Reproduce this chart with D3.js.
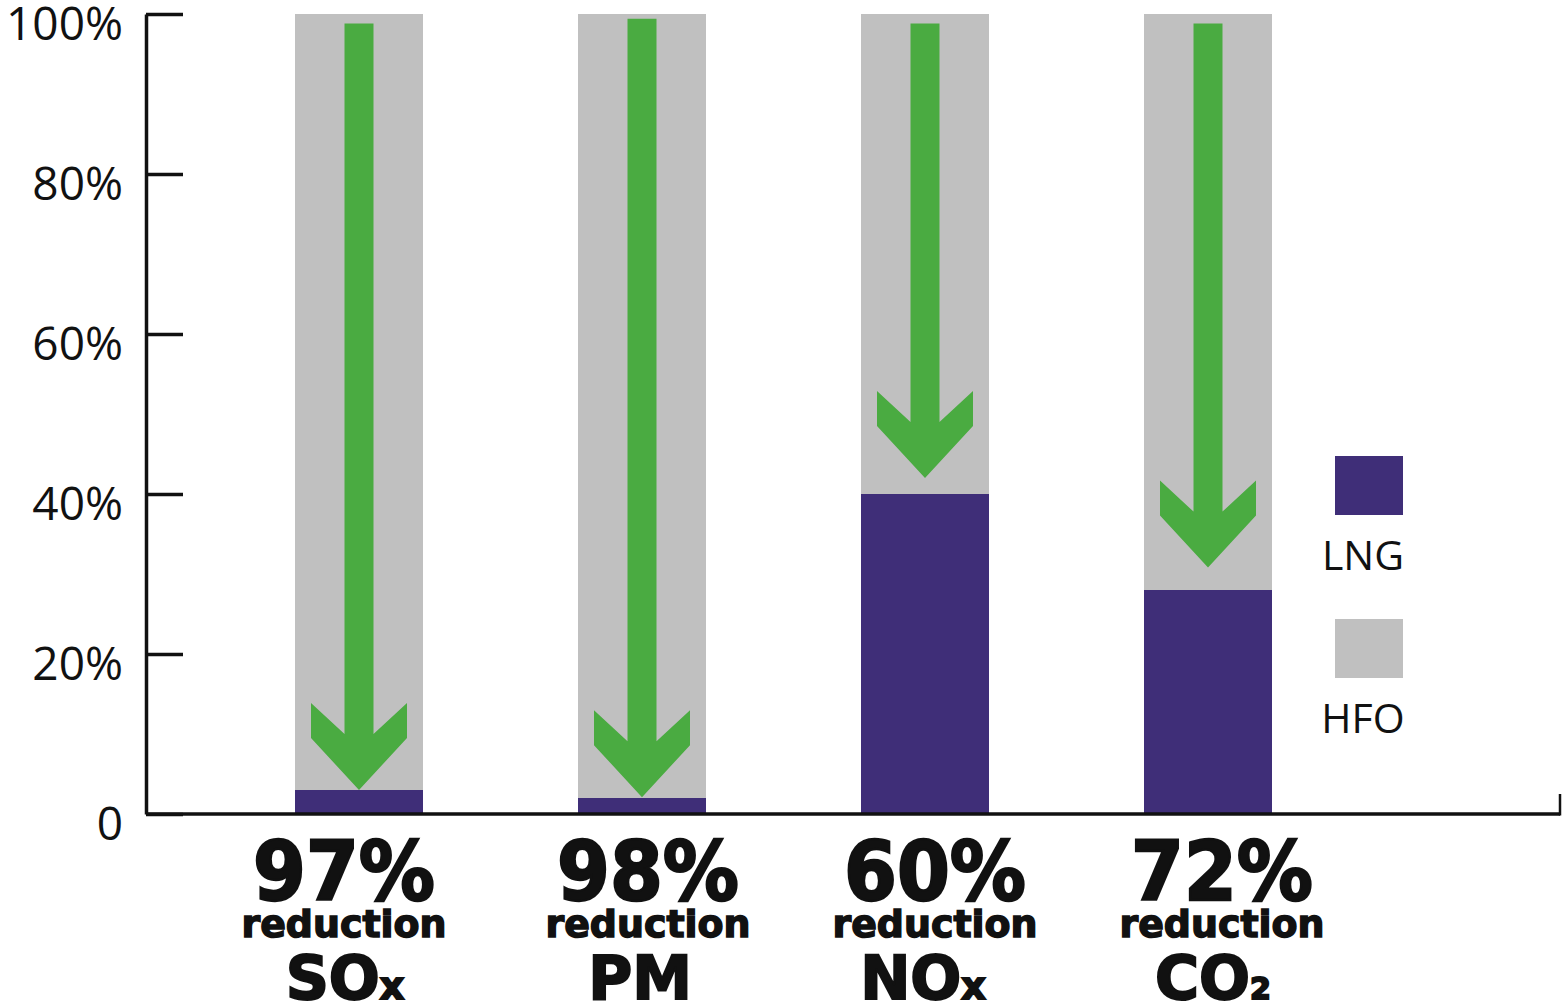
<!DOCTYPE html>
<html>
<head>
<meta charset="utf-8">
<script src="https://cdn.jsdelivr.net/npm/d3@7"></script>
<style>
  body { margin: 0; background: #fff; }
  svg { display: block; }
</style>
</head>
<body>
<script>
// data
var pollutants = ["SOx", "PM", "NOx", "CO2"];
var nameMain = ["SO", "PM", "NO", "CO"];
var nameSmall = ["x", "", "x", "2"];
var hfoValues = [100, 100, 100, 100];   // HFO = 100% reference
var lngValues = [3, 2, 40, 28];          // LNG emissions relative to HFO
var arrowTop = [98.8, 99.4, 98.8, 98.8];
var arrowEnd = [3.0, 2.1, 42.0, 30.8];
var yTicks = [0, 20, 40, 60, 80, 100];
var legendKeys = ["LNG", "HFO"];
var labelShift = [-15, 6, 10, 14];       // labels under the bars are not quite centred
var nameShift = [-14, -2, -2, 5];

var width = 1565, height = 1005;
var colLNG = "#3f2e78", colHFO = "#c0c0c0", colArrow = "#4aab41", colAxis = "#111";

var svg = d3.select("body").append("svg").attr("width", width).attr("height", height);

var y = d3.scaleLinear().domain([0, 100]).range([814, 14]);
var x = d3.scaleBand().domain(pollutants).range([295, 1272]).paddingInner(155 / 283).paddingOuter(0);
var bw = x.bandwidth();

// bars
var grp = svg.append("g").attr("class", "bars");
grp.selectAll("rect.hfo")
    .data(hfoValues)
    .enter().append("rect")
    .attr("class", "hfo")
    .attr("x", function (d, i) { return x(pollutants[i]); })
    .attr("y", function (d) { return y(d); })
    .attr("width", bw)
    .attr("height", function (d) { return y(0) - y(d); })
    .attr("fill", colHFO);

grp.selectAll("rect.lng")
    .data(lngValues)
    .enter().append("rect")
    .attr("class", "lng")
    .attr("x", function (d, i) { return x(pollutants[i]); })
    .attr("y", function (d) { return y(d); })
    .attr("width", bw)
    .attr("height", function (d) { return y(0) - y(d); })
    .attr("fill", colLNG);

// down arrows
function arrowPath(cx, top, tip) {
  var sw = 14.5, hw = 48, wing = 35, notch = 31, head = 87;
  var wt = tip - head, wb = wt + wing;
  return "M" + (cx - sw) + "," + top +
         "V" + (wt + notch) +
         "L" + (cx - hw) + "," + wt +
         "V" + wb +
         "L" + cx + "," + tip +
         "L" + (cx + hw) + "," + wb +
         "V" + wt +
         "L" + (cx + sw) + "," + (wt + notch) +
         "V" + top + "Z";
}
grp.selectAll("path.arrow")
    .data(pollutants)
    .enter().append("path")
    .attr("class", "arrow")
    .attr("fill", colArrow)
    .attr("d", function (d, i) {
      return arrowPath(x(d) + bw / 2, y(arrowTop[i]), y(arrowEnd[i]));
    });

// y axis
var yAxis = d3.axisLeft(y)
    .tickValues(yTicks)
    .tickSizeInner(-37)
    .tickSizeOuter(0)
    .tickPadding(23)
    .tickFormat(function (d) { return d === 0 ? "0" : d + "%"; });

var ax = svg.append("g").attr("class", "axis y").attr("transform", "translate(146,0)").call(yAxis);
ax.select(".domain").attr("stroke", colAxis).attr("stroke-width", 3.5);
ax.selectAll(".tick line").attr("stroke", colAxis).attr("stroke-width", 3.5);
ax.selectAll(".tick text")
    .attr("dy", "25px")
    .attr("fill", "#111")
    .style("font-family", "'Open Sans', sans-serif")
    .style("font-size", "46px");

// x axis line with the small end tick
svg.append("path")
    .attr("fill", "none")
    .attr("stroke", colAxis)
    .attr("stroke-width", 3.5)
    .attr("d", "M146," + y(0) + "H1560");
svg.append("path")
    .attr("fill", "none")
    .attr("stroke", colAxis)
    .attr("stroke-width", 2.5)
    .attr("d", "M1560," + (y(0) + 1.5) + "V" + (y(0) - 20));

// labels under bars
var lab = svg.append("g").attr("class", "labels")
    .style("font-family", "'DejaVu Sans', sans-serif")
    .style("font-weight", "bold")
    .attr("fill", "#111")
    .attr("stroke", "#111")
    .attr("text-anchor", "middle");

lab.selectAll("text.pct")
    .data(lngValues)
    .enter().append("text")
    .attr("class", "pct")
    .attr("x", function (d, i) { return x(pollutants[i]) + bw / 2 + labelShift[i]; })
    .attr("y", 900)
    .attr("stroke-width", 2.5)
    .attr("textLength", 182)
    .attr("lengthAdjust", "spacingAndGlyphs")
    .style("font-size", "82px")
    .text(function (d) { return (100 - d) + "%"; });

lab.selectAll("text.red")
    .data(pollutants)
    .enter().append("text")
    .attr("class", "red")
    .attr("x", function (d, i) { return x(d) + bw / 2 + labelShift[i]; })
    .attr("y", 937)
    .attr("stroke-width", 1.5)
    .attr("textLength", 205)
    .attr("lengthAdjust", "spacingAndGlyphs")
    .style("font-size", "38px")
    .text("reduction");

var nm = lab.selectAll("text.name")
    .data(pollutants)
    .enter().append("text")
    .attr("class", "name")
    .attr("x", function (d, i) { return x(d) + bw / 2 + nameShift[i]; })
    .attr("y", 999)
    .attr("stroke-width", 2)
    .style("font-size", "60px");
nm.append("tspan").text(function (d, i) { return nameMain[i]; });
nm.append("tspan")
    .style("font-size", function (d, i) { return nameSmall[i] === "2" ? "30px" : "38px"; })
    .text(function (d, i) { return nameSmall[i]; });

// legend
var lg = svg.append("g").attr("class", "legend");
var legendColors = d3.scaleOrdinal().domain(legendKeys).range([colLNG, colHFO]);
var legendY = d3.scalePoint().domain(legendKeys).range([456, 619]);
lg.selectAll("rect")
    .data(legendKeys)
    .enter().append("rect")
    .attr("x", 1335)
    .attr("y", function (d) { return legendY(d); })
    .attr("width", 68)
    .attr("height", 59)
    .attr("fill", function (d) { return legendColors(d); });
lg.selectAll("text")
    .data(legendKeys)
    .enter().append("text")
    .attr("x", 1363)
    .attr("y", function (d) { return legendY(d) + 114; })
    .attr("text-anchor", "middle")
    .attr("fill", "#111")
    .style("font-family", "'Open Sans', sans-serif")
    .style("font-size", "41px")
    .text(function (d) { return d; });
</script>
</body>
</html>
